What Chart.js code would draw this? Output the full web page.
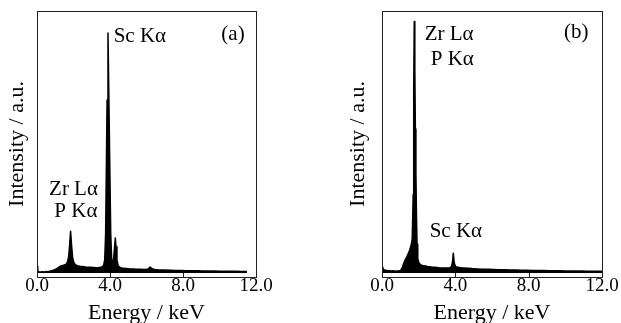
<!DOCTYPE html>
<html>
<head>
<meta charset="utf-8">
<script src="https://cdn.jsdelivr.net/npm/chart.js@4.4.1/dist/chart.umd.min.js"></script>
<style>
  html, body { margin: 0; padding: 0; background: #fff; }
  #wrap { position: relative; width: 621px; height: 323px; overflow: hidden; }
  canvas { position: absolute; top: 0; }
  #chartA { left: 0; }
  #chartB { left: 310px; }
</style>
</head>
<body>
<div id="wrap">
  <canvas id="chartA" width="310" height="323"></canvas>
  <canvas id="chartB" width="311" height="323"></canvas>
</div>
<script>
// axis ticks (keV)
const energyTicks = [0, 4, 8, 12];

// spectrum (a) : energie en keV, intensite en u.a.
const energyA = [0, 0.04, 0.1, 0.2, 0.3, 0.4, 0.5, 0.6, 0.7, 0.8,
  0.9, 1.0, 1.1, 1.2, 1.3, 1.4, 1.5, 1.6, 1.68, 1.74,
  1.79, 1.84, 1.89, 1.95, 2.02, 2.1, 2.2, 2.35, 2.5, 2.65,
  2.8, 2.95, 3.1, 3.25, 3.4, 3.55, 3.65, 3.71, 3.76, 3.8,
  3.84, 3.89, 3.94, 3.99, 4.04, 4.09, 4.15, 4.2, 4.25, 4.29,
  4.33, 4.38, 4.45, 4.55, 4.7, 4.9, 5.1, 5.3, 5.5, 5.7,
  5.9, 6.1, 6.2, 6.3, 6.45, 6.6, 6.8, 7.0, 7.3, 7.6,
  7.9, 8.2, 8.5, 8.8, 9.1, 9.4, 9.7, 10.0, 10.3, 10.6,
  10.9, 11.2, 11.5];
const countsA = [2.6, 1.0, 0.5, 0.4, 0.5, 0.4, 0.6, 0.5, 0.7, 0.9,
  1.1, 1.4, 1.8, 2.3, 2.7, 2.9, 3.1, 3.4, 4.5, 6.5,
  11.0, 16.0, 11.0, 6.0, 4.0, 3.2, 2.8, 2.6, 2.5, 2.3,
  2.2, 2.2, 2.1, 2.0, 2.1, 2.3, 3.0, 5.0, 15.0, 40.0,
  66.0, 91.6, 66.0, 40.0, 15.0, 5.5, 4.0, 5.5, 10.0, 13.4,
  10.0, 5.0, 2.8, 2.1, 1.8, 1.7, 1.6, 1.6, 1.5, 1.5,
  1.4, 1.6, 2.3, 1.7, 1.4, 1.3, 1.2, 1.2, 1.1, 1.0,
  1.0, 0.9, 0.9, 0.9, 0.8, 0.8, 0.8, 0.7, 0.7, 0.7,
  0.7, 0.6, 0.6];

// spectrum (b)
const energyB = [0, 0.05, 0.1, 0.2, 0.3, 0.4, 0.5, 0.6, 0.7, 0.8,
  0.9, 1.0, 1.08, 1.14, 1.2, 1.28, 1.36, 1.44, 1.52, 1.6,
  1.65, 1.7, 1.73, 1.76, 1.79, 1.82, 1.85, 1.88, 1.91, 1.95,
  2.02, 2.1, 2.2, 2.35, 2.5, 2.7, 2.9, 3.1, 3.3, 3.5,
  3.7, 3.8, 3.85, 3.89, 3.94, 4.02, 4.15, 4.3, 4.5, 4.7,
  4.9, 5.2, 5.5, 5.8, 6.1, 6.4, 6.7, 7.0, 7.3, 7.6,
  7.9, 8.2, 8.5, 8.8, 9.1, 9.4, 9.7, 10.0, 10.3, 10.6,
  10.9, 11.2, 11.5, 11.8, 12.0];
const countsB = [2.2, 1.6, 1.3, 1.1, 1.0, 0.9, 0.8, 0.9, 0.7, 0.8,
  0.8, 1.0, 1.6, 2.8, 4.0, 5.2, 6.3, 7.5, 9.0, 11.0,
  13.0, 30.0, 70.0, 96.0, 78.0, 55.0, 38.0, 22.0, 11.0, 5.5,
  3.8, 3.2, 2.9, 2.7, 2.5, 2.3, 2.2, 2.0, 1.9, 1.9,
  2.0, 2.6, 4.5, 7.6, 3.8, 2.4, 2.2, 2.0, 1.9, 1.8,
  1.7, 1.6, 1.5, 1.5, 1.4, 1.3, 1.3, 1.2, 1.2, 1.1,
  1.1, 1.0, 1.0, 1.0, 0.9, 0.9, 0.9, 0.8, 0.8, 0.8,
  0.8, 0.7, 0.7, 0.7, 0.7];

// labels des pics [texte, energie, intensite, alignement]
const labelsA = [
  ["Sc K\u03b1", 4.2, 88, "left"],
  ["(a)", 10.1, 89, "left"],
  ["Zr L\u03b1", 2.0, 29.8, "center"],
  ["P K\u03b1", 2.13, 21.4, "center"]
];
const labelsB = [
  ["Zr L\u03b1", 2.33, 89, "left"],
  ["P K\u03b1", 2.66, 79.4, "left"],
  ["(b)", 9.93, 89.7, "left"],
  ["Sc K\u03b1", 2.6, 13.8, "left"]
];

const serif = "'Liberation Serif', 'DejaVu Serif', serif";

// cadre + petites graduations + labels
const framePlugin = {
  id: 'frame',
  afterDatasetsDraw(chart, args, opts) {
    const { ctx, chartArea: a, scales } = chart;
    ctx.save();
    ctx.strokeStyle = '#222';
    ctx.lineWidth = 1;
    ctx.strokeRect(Math.round(a.left) + 0.5, Math.round(a.top) + 0.5,
      Math.round(a.right - a.left), Math.round(a.bottom - a.top));
    energyTicks.forEach(t => {
      const px = Math.round(scales.x.getPixelForValue(t)) + 0.5;
      ctx.beginPath();
      ctx.moveTo(px, a.bottom);
      ctx.lineTo(px, a.bottom - 4);
      ctx.stroke();
    });
    ctx.fillStyle = '#000';
    ctx.font = "21px " + serif;
    ctx.textBaseline = 'alphabetic';
    opts.labels.forEach(l => {
      ctx.textAlign = l[3];
      ctx.fillText(l[0], scales.x.getPixelForValue(l[1]), scales.y.getPixelForValue(l[2]));
    });
    ctx.restore();
  }
};

function createChart(id, energy, counts, labels, pad, yWidth) {
  return new Chart(document.getElementById(id), {
    type: 'line',
    data: {
      datasets: [{
        data: energy.map((e, i) => ({ x: e, y: counts[i] })),
        borderColor: '#000',
        backgroundColor: '#000',
        borderWidth: 1.5,
        borderJoinStyle: 'round',
        pointRadius: 0,
        tension: 0,
        fill: 'origin'
      }]
    },
    options: {
      responsive: false,
      animation: false,
      devicePixelRatio: 1,
      layout: { padding: pad },
      plugins: {
        legend: { display: false },
        tooltip: { enabled: false },
        frame: { labels: labels }
      },
      scales: {
        x: {
          type: 'linear',
          min: 0,
          max: 12,
          afterBuildTicks: s => { s.ticks = energyTicks.map(v => ({ value: v })); },
          afterFit: s => { s.height = 46; },
          border: { display: false },
          grid: { display: false, drawTicks: false },
          ticks: {
            color: '#000',
            padding: 0,
            maxRotation: 0,
            font: { family: serif, size: 19, lineHeight: 1 },
            callback: v => v.toFixed(1)
          },
          title: {
            display: true,
            text: 'Energy / keV',
            color: '#000',
            padding: { top: 0, bottom: -1 },
            font: { family: serif, size: 22, lineHeight: 1 }
          }
        },
        y: {
          min: -1.5,
          max: 100,
          afterFit: s => { s.width = yWidth; },
          border: { display: false },
          grid: { display: false, drawTicks: false },
          ticks: { display: false },
          title: {
            display: true,
            text: 'Intensity / a.u.',
            color: '#000',
            padding: { top: 6, bottom: 0 },
            font: { family: serif, size: 22, lineHeight: 1 }
          }
        }
      }
    },
    plugins: [framePlugin]
  });
}

createChart('chartA', energyA, countsA, labelsA, { left: 0, right: 54, top: 11, bottom: 0 }, 37);
createChart('chartB', energyB, countsB, labelsB, { left: 31, right: 19, top: 11, bottom: 0 }, 41);
</script>
</body>
</html>
